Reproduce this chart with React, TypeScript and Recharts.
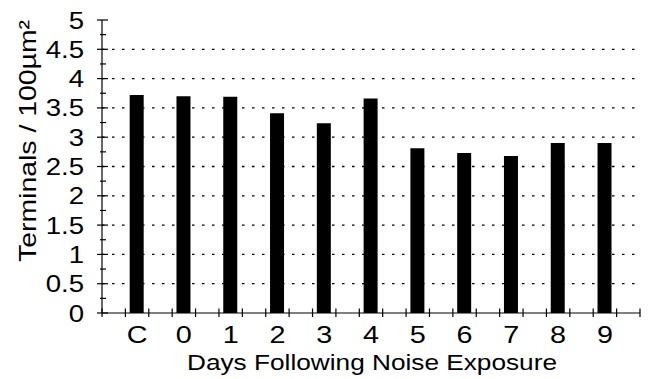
import React from 'react'
import { BarChart, Bar, XAxis, YAxis, ReferenceLine, Label } from 'recharts'

const categories = ['C', '0', '1', '2', '3', '4', '5', '6', '7', '8', '9']
const terminals = [3.72, 3.7, 3.69, 3.41, 3.24, 3.66, 2.81, 2.73, 2.68, 2.9, 2.9]

const yMajorTicks = [0, 0.5, 1, 1.5, 2, 2.5, 3, 3.5, 4, 4.5, 5]
const yMinorTicks = [0.25, 0.75, 1.25, 1.75, 2.25, 2.75, 3.25, 3.75, 4.25, 4.75]
const yTickLabels = ['0', '0.5', '1', '1.5', '2', '2.5', '3', '3.5', '4', '4.5', '5']
const gridValues = [0.5, 1, 1.5, 2, 2.5, 3, 3.5, 4, 4.5]

// tick marks on the x axis sit on both sides of each bar
const xTickMarks = [
  -0.75, -0.25, 0.25, 0.75, 1.25, 1.75, 2.25, 2.75, 3.25, 3.75, 4.25, 4.75,
  5.25, 5.75, 6.25, 6.75, 7.25, 7.75, 8.25, 8.75, 9.25, 9.75, 10.25, 10.75,
]
const xLabelPositions = [0, 1, 2, 3, 4, 5, 6, 7, 8, 9, 10]

const data = categories.map((name, i) => ({ x: xLabelPositions[i], name, value: terminals[i] }))

const FONT = '"Liberation Sans", Arial, Helvetica, sans-serif'
// the original lettering is wider than Arial
const STRETCH = 1.2

const XTick = (props: any) => {
  const { x, y, payload } = props
  const v = payload.value
  const idx = xLabelPositions.indexOf(v)
  if (idx >= 0) {
    return (
      <text
        transform={`translate(${x},${y + 30}) scale(${STRETCH},1)`}
        textAnchor="middle"
        fontSize={24}
        fontFamily={FONT}
        fill="#000"
      >
        {categories[idx]}
      </text>
    )
  }
  return <line x1={x} x2={x} y1={y - 4.5} y2={y + 4} stroke="#000" strokeWidth={1.2} />
}

const YTick = (props: any) => {
  const { x, y, payload } = props
  const v = payload.value
  const idx = yMajorTicks.indexOf(v)
  if (idx >= 0) {
    return (
      <g>
        <line x1={x - 5} x2={x + 6} y1={y} y2={y} stroke="#000" strokeWidth={1.2} />
        <text
          transform={`translate(${x - 18},${y + 8.5}) scale(${STRETCH},1)`}
          textAnchor="end"
          fontSize={23}
          fontFamily={FONT}
          fill="#000"
        >
          {yTickLabels[idx]}
        </text>
      </g>
    )
  }
  return <line x1={x - 2} x2={x + 4} y1={y} y2={y} stroke="#000" strokeWidth={1.2} />
}

export default function App() {
  return (
    <div style={{ position: 'absolute', left: 0, top: 0, background: '#fff' }}>
      <BarChart
        width={651}
        height={379}
        data={data}
        margin={{ top: 20, right: 11, bottom: 36, left: 42 }}
      >
        {gridValues.map((g) => (
          <ReferenceLine key={g} y={g} stroke="#000" strokeWidth={1.3} strokeDasharray="2.5 7.5" />
        ))}
        <XAxis
          dataKey="x"
          type="number"
          domain={[-0.75, 10.75]}
          ticks={[...xTickMarks, ...xLabelPositions]}
          interval={0}
          tickSize={0}
          tickMargin={0}
          tickLine={false}
          height={30}
          axisLine={{ stroke: '#000', strokeWidth: 1.2 }}
          tick={<XTick />}
          allowDataOverflow
        >
          <Label
            content={() => (
              <text
                x={372}
                y={370}
                textAnchor="middle"
                fontSize={22}
                fontFamily={FONT}
                fill="#000"
                textLength={370}
                lengthAdjust="spacingAndGlyphs"
              >
                Days Following Noise Exposure
              </text>
            )}
          />
        </XAxis>
        <YAxis
          type="number"
          domain={[0, 5]}
          ticks={[...yMajorTicks, ...yMinorTicks].sort((a, b) => a - b)}
          interval={0}
          width={60}
          tickSize={0}
          tickMargin={0}
          tickLine={false}
          axisLine={{ stroke: '#000', strokeWidth: 1.2 }}
          tick={<YTick />}
        >
          <Label
            content={() => (
              <text
                transform="translate(36,141) rotate(-90)"
                textAnchor="middle"
                fontSize={24}
                fontFamily={FONT}
                fill="#000"
                textLength={242}
                lengthAdjust="spacingAndGlyphs"
              >
                Terminals / 100µm²
              </text>
            )}
          />
        </YAxis>
        <Bar dataKey="value" fill="#000" barSize={14} isAnimationActive={false} />
      </BarChart>
    </div>
  )
}
